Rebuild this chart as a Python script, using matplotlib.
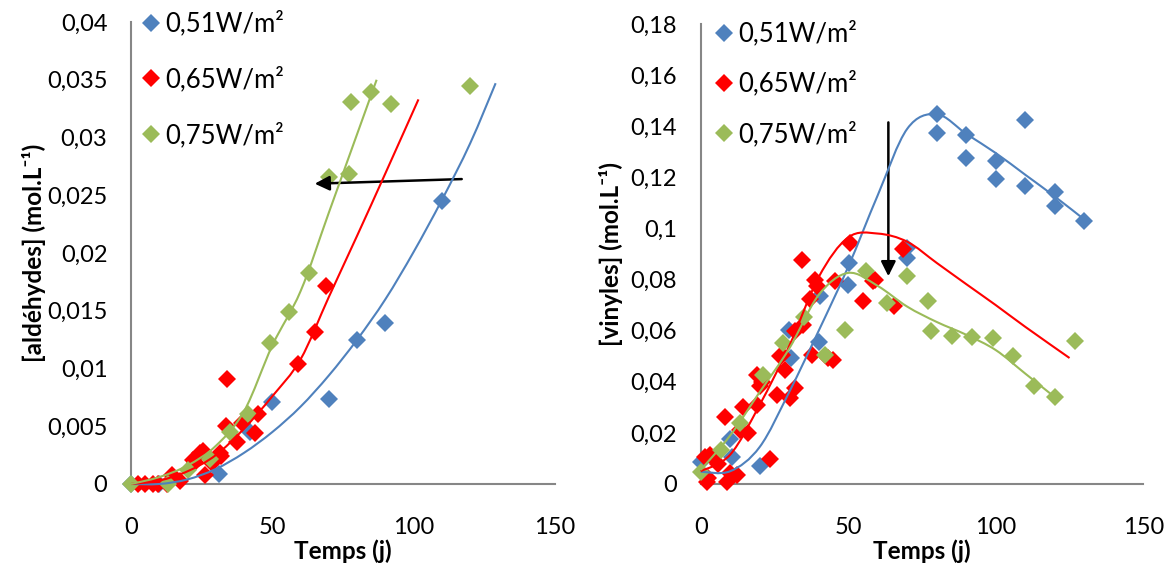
import numpy as np
import matplotlib
matplotlib.use("Agg")
import matplotlib.pyplot as plt
from matplotlib.path import Path
from matplotlib.patches import PathPatch

plt.rcParams['font.family'] = ['Lato', 'DejaVu Sans']

# ---- data: aldehydes (left) ----
ald_x_051 = [0, 10, 31, 42, 50, 70, 80, 90, 110]
ald_y_051 = [0, 0, 0.0009, 0.0045, 0.0071, 0.0074, 0.0125, 0.0139, 0.0245]
ald_x_065 = [2.5, 5, 7.9, 9.4, 12.6, 14.4, 17.3, 22, 22.6, 24.4, 25.5, 26.2, 28.5,
             31.5, 32, 33.6, 34, 37.4, 39.2, 43.9, 45, 59, 65, 69]
ald_y_065 = [0, 0, 0, 0, 0, 0.0008, 0.0003, 0.0021, 0.0019, 0.0027, 0.0029, 0.0008, 0.0018,
             0.0027, 0.0024, 0.005, 0.0091, 0.0036, 0.0053, 0.0044, 0.0061, 0.0104, 0.0132, 0.0171]
ald_x_075 = [0, 13, 20, 28, 35, 41.5, 49, 56, 63, 70, 77, 78, 85, 92, 120]
ald_y_075 = [0, 0, 0.0012, 0.0022, 0.0045, 0.0061, 0.0122, 0.0149, 0.0183, 0.0266,
             0.0268, 0.0331, 0.0339, 0.0329, 0.0345]

# model curves (knots)
ald_fx_051 = [0, 10, 20, 30, 40, 50, 60, 70, 80, 90, 100, 110, 120, 129]
ald_fy_051 = [0, 0.0000, 0.0004, 0.0013, 0.0027, 0.0045, 0.0067, 0.0094, 0.0125,
              0.0160, 0.0201, 0.0246, 0.0295, 0.0347]
ald_fx_065 = [0, 10, 20, 30, 40, 50, 60, 70, 80, 90, 101.7]
ald_fy_065 = [0, 0.0003, 0.0011, 0.0025, 0.0048, 0.0076, 0.0108, 0.0162, 0.0215, 0.0269, 0.0333]
ald_fx_075 = [0, 10, 20, 30, 40, 50, 60, 70, 80, 86.9]
ald_fy_075 = [0, 0.0006, 0.0016, 0.0033, 0.0063, 0.0120, 0.0167, 0.0235, 0.0303, 0.035]

# ---- data: vinyls (right) ----
vin_x_051 = [0, 10, 10.5, 20, 30, 30.5, 40, 40.4, 50, 50.4, 70, 70, 80, 80, 90, 90,
             100, 100, 110, 110, 120, 120, 130]
vin_y_051 = [0.0087, 0.0175, 0.0105, 0.0072, 0.0604, 0.0495, 0.0555, 0.0735, 0.078, 0.0866,
             0.0885, 0.0925, 0.1447, 0.1375, 0.1365, 0.1277, 0.1264, 0.1195, 0.1424, 0.1166,
             0.1144, 0.1088, 0.1029]
vin_x_065 = [1.5, 2, 2.6, 3.2, 6, 8.2, 8.8, 9.9, 12.2, 13.3, 14.4, 16.1, 19, 19, 20.1, 20.7,
             23.5, 25.8, 26.9, 27.4, 28.6, 30.3, 32, 32, 34.2, 34.8, 37, 37.6, 38.7, 39.3,
             43.3, 45, 45.5, 50.6, 55.1, 58.5, 59.1, 65.5, 68.7]
vin_y_065 = [0.0107, 0.0009, 0.0022, 0.0114, 0.0078, 0.0264, 0.0009, 0.0045, 0.0035, 0.0212,
             0.03, 0.0199, 0.031, 0.0427, 0.0382, 0.04, 0.0098, 0.0349, 0.05, 0.0506, 0.0447,
             0.0336, 0.0375, 0.0597, 0.0878, 0.0624, 0.0722, 0.0506, 0.08, 0.0775, 0.0493,
             0.0486, 0.0793, 0.0944, 0.0715, 0.0793, 0.08, 0.0695, 0.0918]
vin_x_075 = [0, 7, 13.3, 21, 28, 35, 42, 49, 56, 63, 70, 77, 78, 85, 92, 99, 106, 113, 120, 127]
vin_y_075 = [0.0048, 0.0133, 0.0238, 0.0427, 0.0552, 0.0653, 0.0503, 0.0604, 0.0833, 0.0709,
             0.0813, 0.0715, 0.0597, 0.0578, 0.0575, 0.0571, 0.0502, 0.0384, 0.034, 0.0558]

vin_fx_051 = [0, 10, 20, 30, 40, 50, 60, 70, 80, 90, 100, 110, 120, 130]
vin_fy_051 = [0.0048, 0.005, 0.0145, 0.036, 0.060, 0.085, 0.113, 0.139, 0.1447, 0.137,
              0.1295, 0.121, 0.1125, 0.1035]
vin_fx_065 = [0, 10, 20, 30, 40, 50, 60, 70, 80, 90, 100, 110, 125]
vin_fy_065 = [0.005, 0.0115, 0.031, 0.054, 0.081, 0.0965, 0.098, 0.0948, 0.0865, 0.0782,
              0.070, 0.0615, 0.0493]
vin_fx_075 = [0, 10, 20, 30, 40, 50, 60, 70, 80, 90, 100, 110, 120]
vin_fy_075 = [0.0055, 0.019, 0.036, 0.053, 0.074, 0.0826, 0.0775, 0.0694, 0.0634, 0.0584,
              0.0524, 0.0432, 0.034]

labels = ['0,51W/m²', '0,65W/m²', '0,75W/m²']
colors = ['#4F81BD', '#FF0000', '#9BBB59']
x_ticks = [0, 50, 100, 150]
x_ticklabels = ['0', '50', '100', '150']
ald_ticks = [0, 0.005, 0.01, 0.015, 0.02, 0.025, 0.03, 0.035, 0.04]
ald_ticklabels = ['0', '0,005', '0,01', '0,015', '0,02', '0,025', '0,03', '0,035', '0,04']
vin_ticks = [0, 0.02, 0.04, 0.06, 0.08, 0.1, 0.12, 0.14, 0.16, 0.18]
vin_ticklabels = ['0', '0,02', '0,04', '0,06', '0,08', '0,1', '0,12', '0,14', '0,16', '0,18']


def smooth_line(ax, xs, ys, color):
    # Excel-like smoothed line (Catmull-Rom -> cubic Bezier)
    p = np.column_stack([xs, ys]).astype(float)
    n = len(p)
    verts = [p[0]]
    codes = [Path.MOVETO]
    for i in range(n - 1):
        p0 = p[max(i - 1, 0)]
        p1 = p[i]
        p2 = p[i + 1]
        p3 = p[min(i + 2, n - 1)]
        verts += [p1 + (p2 - p0) / 6, p2 - (p3 - p1) / 6, p2]
        codes += [Path.CURVE4] * 3
    ax.add_patch(PathPatch(Path(verts, codes), fill=False, edgecolor=color,
                           lw=1.5, zorder=4, clip_on=False))


fig = plt.figure(figsize=(11.68, 5.65), dpi=100)
ax1 = fig.add_axes([131 / 1168, 81 / 565, 424 / 1168, 462 / 565])
ax2 = fig.add_axes([700.7 / 1168, 81 / 565, 442.6 / 1168, 460 / 565])

for ax, pts, fits, ticks, tlabels, ylab in [
        (ax1, [(ald_x_051, ald_y_051), (ald_x_065, ald_y_065), (ald_x_075, ald_y_075)],
         [(ald_fx_051, ald_fy_051), (ald_fx_065, ald_fy_065), (ald_fx_075, ald_fy_075)],
         ald_ticks, ald_ticklabels, '[aldéhydes] (mol.L⁻¹)'),
        (ax2, [(vin_x_051, vin_y_051), (vin_x_065, vin_y_065), (vin_x_075, vin_y_075)],
         [(vin_fx_051, vin_fy_051), (vin_fx_065, vin_fy_065), (vin_fx_075, vin_fy_075)],
         vin_ticks, vin_ticklabels, '[vinyles] (mol.L⁻¹)')]:
    for (xs, ys), lab, c in zip(pts, labels, colors):
        ax.plot(xs, ys, linestyle='none', marker='D', markersize=9.5, markeredgewidth=0,
                color=c, label=lab, clip_on=False, zorder=3)
    for (xs, ys), c in zip(fits, colors):
        smooth_line(ax, xs, ys, c)
    ax.set_xlim(0, 150)
    ax.set_ylim(ticks[0], ticks[-1])
    ax.set_xticks(x_ticks)
    ax.set_xticklabels(x_ticklabels)
    ax.set_yticks(ticks)
    ax.set_yticklabels(tlabels)
    ax.tick_params(length=0, labelsize=17)
    ax.tick_params(axis='x', pad=24)
    ax.tick_params(axis='y', pad=17)
    for s in ['top', 'right']:
        ax.spines[s].set_visible(False)
    for s in ['left', 'bottom']:
        ax.spines[s].set_color('#868686')
        ax.spines[s].set_linewidth(1.5)
    ax.set_xlabel('Temps (j)', fontsize=17.5, fontweight='bold')
    ax.xaxis.set_label_coords(0.5, -0.12)
    ax.set_ylabel(ylab, fontsize=17.5, fontweight='bold')

ax1.yaxis.set_label_coords(-0.2, 0.5)
ax2.yaxis.set_label_coords(-0.175, 0.5)

leg_kw = dict(frameon=False, fontsize=18.5, handlelength=0.75, handletextpad=0.2,
              borderpad=0, borderaxespad=0, loc='upper left',
              bbox_transform=fig.transFigure)
ax1.legend(bbox_to_anchor=(141 / 1168, 1 - 11 / 565), labelspacing=1.17, **leg_kw)
ax2.legend(bbox_to_anchor=(714 / 1168, 1 - 21 / 565), labelspacing=0.95, **leg_kw)

arrow = dict(arrowstyle='-|>', color='black', lw=1.8, mutation_scale=22,
             shrinkA=0, shrinkB=0)
ax1.annotate('', xy=(65, 0.026), xytext=(117, 0.0264), arrowprops=arrow)
ax2.annotate('', xy=(63.6, 0.0813), xytext=(63.6, 0.1415), arrowprops=arrow)

fig.savefig('out.png', dpi=100)
